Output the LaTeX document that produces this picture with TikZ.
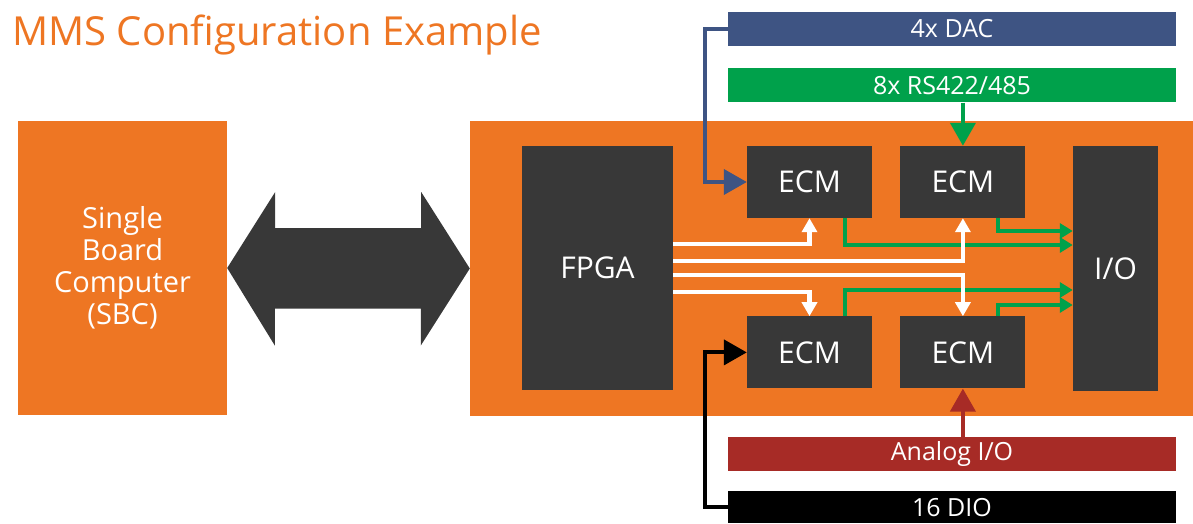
\documentclass[tikz,border=0pt]{standalone}
\usepackage{fontspec}
\setmainfont{Open Sans}
\usepackage{tikz}
\usetikzlibrary{arrows.meta,positioning,calc}

\definecolor{mmsorange}{RGB}{238,118,35}
\definecolor{mmsdark}{RGB}{56,56,56}
\definecolor{dacblue}{RGB}{62,84,131}
\definecolor{rsgreen}{RGB}{0,161,75}
\definecolor{analogred}{RGB}{167,43,38}

\tikzset{
  orangebox/.style={fill=mmsorange, inner sep=0pt},
  darkbox/.style={fill=mmsdark, text=white, inner sep=0pt, font=\fontsize{30}{34}\selectfont},
  ecmbox/.style={darkbox, minimum width=125pt, minimum height=72pt},
  bar/.style={inner sep=0pt, text=white, minimum width=448pt, minimum height=34pt, font=\fontsize{25}{29}\selectfont},
  busline/.style={white, line width=4.5pt, -{Triangle[width=15pt,length=14pt]}},
  outline/.style={rsgreen, line width=4pt, -{Triangle[width=15pt,length=13pt]}},
  feed/.style={line width=4pt, -{Triangle[width=25pt,length=23pt]}}
}

\begin{document}
\begin{tikzpicture}[x=1pt, y=-1pt, every node/.style={font=\fontsize{29}{32}\selectfont}]
\useasboundingbox (0,0) rectangle (1193,523);

\node (title) [anchor=base west, text=mmsorange, inner sep=0pt, font=\fontsize{40}{46}\selectfont] at (12,45) {MMS Configuration Example};

% left and right boards
\node (sbc) [orangebox, text=white, align=center, minimum width=209pt, minimum height=294pt] at (122.5,268) {Single\\Board\\Computer\\(SBC)};
\node (board) [orangebox, minimum width=723pt, minimum height=295pt] at (831.5,268.5) {};

\node (fpga) [darkbox, minimum width=151pt, minimum height=244pt] at (597.5,268) {FPGA};
\node (ecma) [ecmbox] at (809.5,182) {ECM};
\node (ecmb) [ecmbox, right=28pt of ecma] {ECM};
\node (ecmc) [ecmbox, below=98pt of ecma] {ECM};
\node (ecmd) [ecmbox, below=98pt of ecmb] {ECM};
\node (io) [darkbox, minimum width=85pt, minimum height=245pt] at (1115.5,268.5) {I/O};

% signal bars
\node (dac) [bar, fill=dacblue] at (952,29) {4x DAC};
\node (rs) [bar, fill=rsgreen, below=22pt of dac] {8x RS422/485};
\node (analog) [bar, fill=analogred] at (952,454) {Analog I/O};
\node (dio) [bar, fill=black, minimum height=32pt, below=20pt of analog] {16 DIO};

% link between SBC and board
\fill[mmsdark] (sbc.east) -- ++(48,-76) -- ++(0,36) -- ++(146,0) -- ++(0,-36) -- (board.west)
  -- ++(-49,77) -- ++(0,-37) -- ++(-146,0) -- ++(0,37) -- cycle;

% ECM outputs to I/O
\draw[outline] ($(ecma.south)+(35,0)$) |- ($(io.west)+(0,-23.5)$);
\draw[outline] ($(ecmb.south)+(35,0)$) |- ($(io.west)+(0,-37.5)$);
\draw[outline] ($(ecmc.north)+(35,0)$) |- ($(io.west)+(0,21.5)$);
\draw[outline] ($(ecmd.north)+(35,0)$) |- ($(io.west)+(0,36.5)$);

% FPGA bus to ECMs
\draw[busline] ($(fpga.east)+(0,-24)$) -| (ecma.south);
\draw[busline] ($(fpga.east)+(0,-7)$) -| (ecmb.south);
\draw[busline] ($(fpga.east)+(0,7)$) -| (ecmd.north);
\draw[busline] ($(fpga.east)+(0,24)$) -| (ecmc.north);

% external signals
\draw[feed, dacblue] (dac.west) -- ++(-23,0) |- (ecma.west);
\draw[feed, rsgreen] (ecmb.north |- rs.south) -- (ecmb.north);
\draw[feed, analogred] (ecmd.south |- analog.north) -- (ecmd.south);
\draw[feed, black] (dio.west) -- ++(-23,0) |- (ecmc.west);
\end{tikzpicture}
\end{document}
